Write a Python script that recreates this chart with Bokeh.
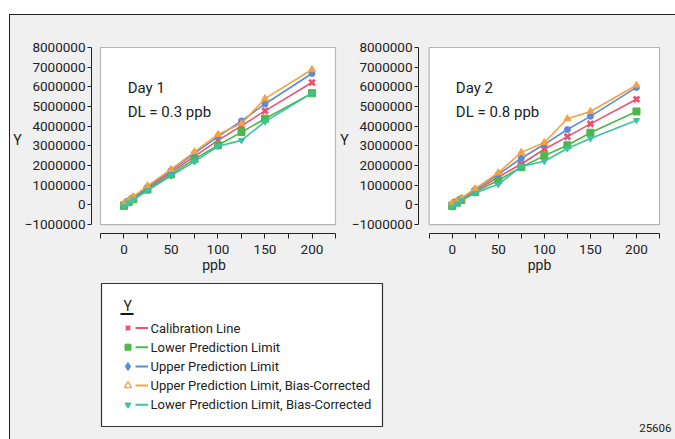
from bokeh.plotting import figure
from bokeh.layouts import row, column
from bokeh.models import Range1d, FixedTicker, BoxAnnotation, Label
from bokeh.core.properties import value
from bokeh.embed import file_html
from bokeh.resources import INLINE

# ---------------- data ----------------
x_ppb = [0, 5, 10, 25, 50, 75, 100, 125, 150, 200]

day1_cal = [0.00e6, 0.17e6, 0.33e6, 0.83e6, 1.65e6, 2.47e6, 3.28e6, 4.02e6, 4.78e6, 6.22e6]
day1_lpl = [-0.05e6, 0.14e6, 0.29e6, 0.78e6, 1.55e6, 2.33e6, 3.03e6, 3.70e6, 4.38e6, 5.68e6]
day1_upl = [0.05e6, 0.20e6, 0.37e6, 0.90e6, 1.75e6, 2.62e6, 3.47e6, 4.27e6, 5.13e6, 6.68e6]
day1_upl_bc = [0.08e6, 0.24e6, 0.42e6, 0.97e6, 1.80e6, 2.70e6, 3.58e6, 4.13e6, 5.40e6, 6.88e6]
day1_lpl_bc = [-0.08e6, 0.11e6, 0.26e6, 0.73e6, 1.48e6, 2.20e6, 2.98e6, 3.28e6, 4.23e6, 5.68e6]

day2_cal = [0.00e6, 0.14e6, 0.28e6, 0.70e6, 1.42e6, 2.08e6, 2.83e6, 3.47e6, 4.12e6, 5.37e6]
day2_lpl = [-0.05e6, 0.11e6, 0.25e6, 0.65e6, 1.25e6, 1.92e6, 2.50e6, 3.03e6, 3.67e6, 4.75e6]
day2_upl = [0.05e6, 0.17e6, 0.32e6, 0.78e6, 1.55e6, 2.37e6, 3.08e6, 3.83e6, 4.50e6, 5.97e6]
day2_upl_bc = [0.10e6, 0.20e6, 0.35e6, 0.82e6, 1.63e6, 2.67e6, 3.17e6, 4.38e6, 4.75e6, 6.08e6]
day2_lpl_bc = [-0.10e6, 0.08e6, 0.22e6, 0.60e6, 1.05e6, 1.95e6, 2.22e6, 2.87e6, 3.38e6, 4.30e6]

series_names = [
    "Calibration Line",
    "Lower Prediction Limit",
    "Upper Prediction Limit",
    "Upper Prediction Limit, Bias-Corrected",
    "Lower Prediction Limit, Bias-Corrected",
]
day_titles = ["Day 1", "Day 2"]
dl_texts = ["DL = 0.3 ppb", "DL = 0.8 ppb"]

x_ticks = [0, 50, 100, 150, 200]
x_minor_ticks = [-25, 25, 75, 125, 175, 225]
y_ticks = [-1000000, 0, 1000000, 2000000, 3000000, 4000000, 5000000, 6000000, 7000000, 8000000]
x_lo, x_hi = -25, 225
y_lo, y_hi = -1000000, 8000000
legend_title = "Y"
figure_id = "25606"

# ---------------- styles ----------------
colors = ["#f0506e", "#4db848", "#5b8bd4", "#f5a140", "#3cc1a4"]
markers = ["x", "square", "circle", "triangle", "inverted_triangle"]
msizes = [8, 7, 6, 7, 6]
FONT = "Roboto"
BG = "#f0f0f0"
TXT = "#222222"


def make_panel(ys, day, dl, width, mb_left, mb_right, gap):
    mb_top, mb_bottom = 31, 40
    height = 260
    fw = width - mb_left - mb_right
    fh = height - mb_top - mb_bottom
    inner_w = fw - gap - 1
    xpp = (x_hi - x_lo) / inner_w
    inner_h = fh - 1 - 9
    ypp = (y_hi - y_lo) / inner_h
    p = figure(width=width, height=height, output_backend="svg", toolbar_location=None,
               x_range=Range1d(x_lo - gap * xpp, x_hi + 1 * xpp),
               y_range=Range1d(y_lo - 9 * ypp, y_hi + 1 * ypp),
               min_border_left=mb_left, min_border_right=mb_right,
               min_border_top=mb_top, min_border_bottom=mb_bottom,
               background_fill_color=BG, border_fill_color=BG,
               outline_line_color=None)
    p.xgrid.visible = False
    p.ygrid.visible = False
    box = BoxAnnotation(left=x_lo, right=x_hi, bottom=y_lo, top=y_hi,
                        fill_color="white", fill_alpha=1.0, line_color="#222222",
                        line_width=1.2, level="underlay")
    p.add_layout(box)

    for k in range(len(ys)):
        p.line(x_ppb, ys[k], line_color=colors[k], line_width=1.6)
        if markers[k] == "x":
            p.scatter(x_ppb, ys[k], marker="x", size=msizes[k], line_color=colors[k], line_width=2.8)
        else:
            p.scatter(x_ppb, ys[k], marker=markers[k], size=msizes[k],
                      fill_color=colors[k], line_color=colors[k])

    for ax in (p.xaxis[0], p.yaxis[0]):
        ax.axis_line_color = "#222222"
        ax.major_tick_line_color = "#222222"
        ax.minor_tick_line_color = "#222222"
        ax.major_label_text_font = FONT
        ax.major_label_text_font_size = "13.5px"
        ax.major_label_text_color = TXT
        ax.axis_label_text_font = FONT
        ax.axis_label_text_font_size = "14px"
        ax.axis_label_text_font_style = "normal"
        ax.axis_label_text_color = TXT
        ax.major_tick_in = 0
        ax.minor_tick_in = 0

    xa = p.xaxis[0]
    xa.ticker = FixedTicker(ticks=x_ticks, minor_ticks=x_minor_ticks)
    xa.bounds = (x_lo, x_hi)
    xa.major_tick_out = 5
    xa.minor_tick_out = 5
    xa.major_label_standoff = 6
    xa.axis_label = "ppb"
    xa.axis_label_standoff = 0

    ya = p.yaxis[0]
    ya.ticker = FixedTicker(ticks=y_ticks, minor_ticks=[])
    ya.bounds = (y_lo, y_hi)
    ya.major_tick_out = 4
    ya.major_label_standoff = 2
    ya.major_label_overrides = {t: str(t).replace("-", "\u2212") for t in y_ticks}
    ya.axis_label = "Y"
    ya.axis_label_orientation = "horizontal"
    ya.axis_label_standoff = 0

    p.add_layout(Label(x=4, y=5930000, text=day, text_font=FONT, text_font_size="15px",
                       text_color=TXT, text_baseline="middle"))
    p.add_layout(Label(x=4, y=4730000, text=dl, text_font=FONT, text_font_size="15px",
                       text_color=TXT, text_baseline="middle"))
    return p


p1 = make_panel([day1_cal, day1_lpl, day1_upl, day1_upl_bc, day1_lpl_bc],
                day_titles[0], dl_texts[0], width=327, mb_left=80, mb_right=1, gap=9)
p2 = make_panel([day2_cal, day2_lpl, day2_upl, day2_upl_bc, day2_lpl_bc],
                day_titles[1], dl_texts[1], width=338, mb_left=73, mb_right=15, gap=11)

# ---------------- legend panel ----------------
LW, LH = 665, 164
pl = figure(width=LW, height=LH, output_backend="svg", toolbar_location=None,
            x_range=Range1d(0, LW), y_range=Range1d(LH, 0),
            min_border=0, background_fill_color=BG, border_fill_color=BG,
            outline_line_color=None)
pl.axis.visible = False
pl.grid.visible = False
pl.quad(left=[91], right=[372], top=[8], bottom=[151], fill_color="white",
        line_color="#333333", line_width=1.2)
pl.text(x=[113], y=[30], text=[legend_title], text_font=value(FONT), text_font_size="14px",
        text_color=TXT, text_baseline="middle")
pl.segment(x0=[110], y0=[38.5], x1=[123], y1=[38.5], line_color="#111111", line_width=2)
row_y = [52.5 + 19.2 * i for i in range(len(series_names))]
for k, name in enumerate(series_names):
    yy = row_y[k]
    pl.segment(x0=[125], y0=[yy], x1=[137.5], y1=[yy], line_color=colors[k], line_width=2)
    if markers[k] == "x":
        pl.scatter([117.5], [yy], marker="x", size=6, line_color=colors[k], line_width=2.2)
    elif markers[k] == "triangle":
        pl.scatter([117.5], [yy], marker="triangle", size=7, fill_color="white", line_color=colors[k], line_width=1.3)
    elif markers[k] == "circle":
        pl.scatter([117.5], [yy], marker="diamond", size=8, fill_color=colors[k], line_color=colors[k])
    else:
        pl.scatter([117.5], [yy], marker=markers[k], size=6, fill_color=colors[k], line_color=colors[k])
pl.text(x=[140] * len(series_names), y=row_y, text=series_names, text_font=value(FONT),
        text_font_size="13px", text_color=TXT, text_baseline="middle")
pl.text(x=[661], y=[152], text=[figure_id], text_font=value(FONT), text_font_size="11.5px",
        text_color=TXT, text_baseline="middle", text_align="right")

root = column(row(p1, p2, spacing=0), pl, spacing=0)
root.margin = (14, 0, 0, 9)
root.styles = {"border-top": "1px solid #222", "border-left": "1px solid #222",
               "background-color": BG}

open("out.html", "w").write(file_html(root, INLINE))
